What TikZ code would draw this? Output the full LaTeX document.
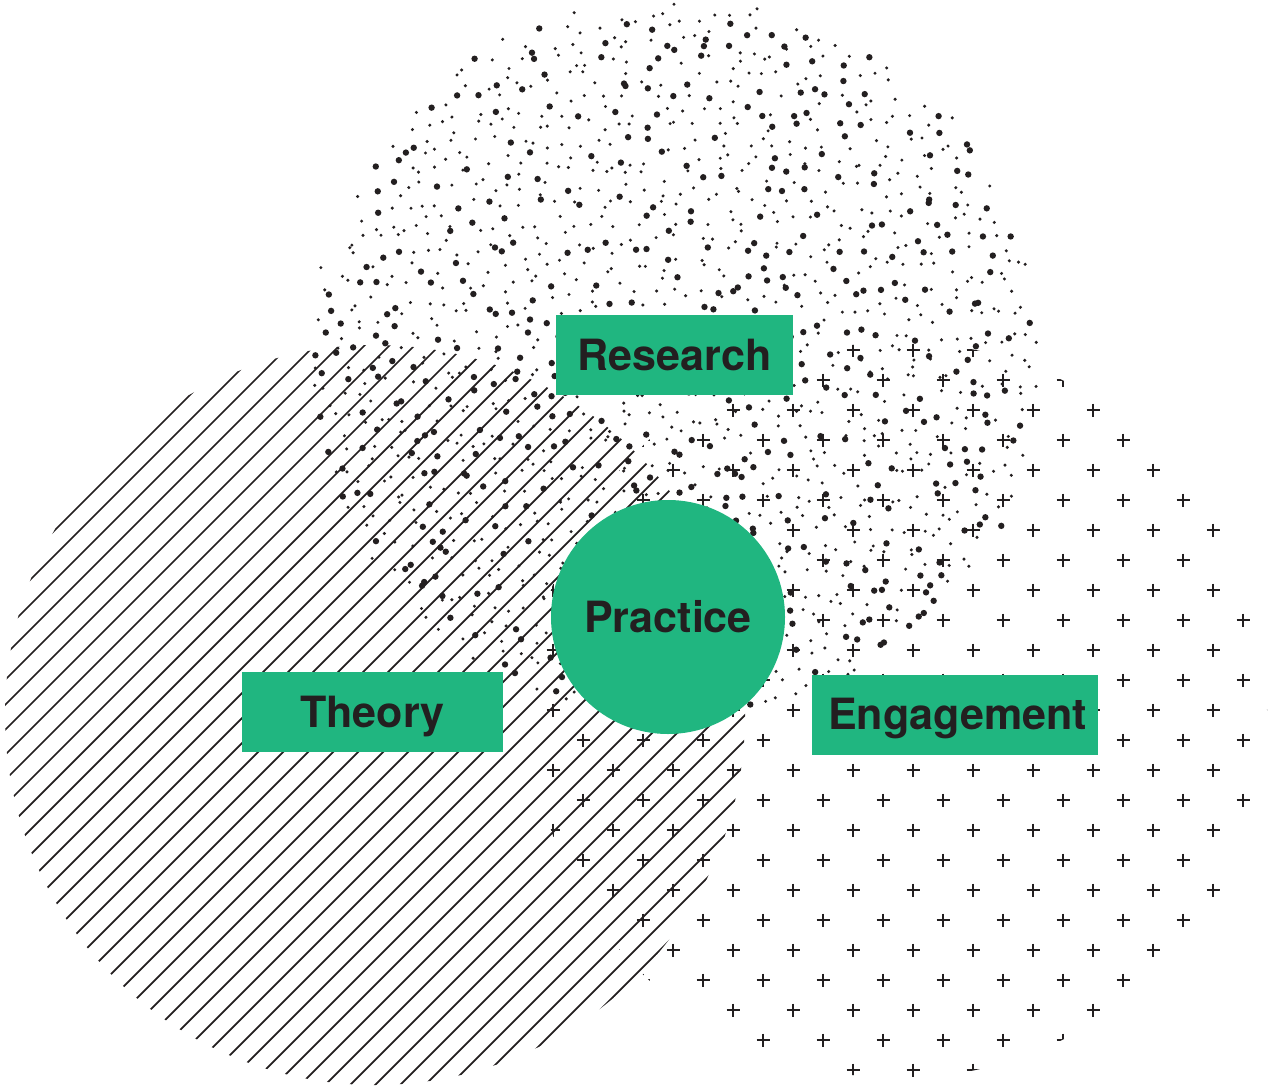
\documentclass[tikz,border=0pt]{standalone}
\usepackage{fontspec}
\setsansfont{TeX Gyre Heros}
\usepackage{tikz}
\usetikzlibrary{positioning}
\definecolor{leaf}{RGB}{32,182,128}
\definecolor{ink}{RGB}{35,31,32}

\begin{document}
\begin{tikzpicture}[x=0.02cm,y=-0.02cm,
label/.style={rectangle,fill=leaf,text=ink,inner sep=0pt,minimum height=80*0.02cm,text height=17.6pt,text depth=0pt,font=\sffamily\bfseries\fontsize{24.5}{29}\selectfont},
hub/.style={circle,fill=leaf,text=ink,inner sep=0pt,minimum size=234*0.02cm,text height=17.6pt,text depth=0pt,font=\sffamily\bfseries\fontsize{24.5}{29}\selectfont},
hatch/.style={ink,line width=1pt},
cross/.style={ink,line width=0.8pt},
]
\useasboundingbox (0,0) rectangle (1268,1088);
\clip (0,0) rectangle (1268,1088);

% hatched circle
\begin{scope}
\clip (375,715) circle[radius=370];
\foreach \c in {560,585,...,1635}
{
\draw [hatch] (\c-1100,1100) -- (\c,0);
}
\end{scope}

% grid of crosses
\begin{scope}
\clip (899,710) circle[radius=368];
\foreach \j in {0,...,24}
{
\pgfmathsetmacro{\rowy}{350+30*\j}
\pgfmathsetmacro{\shift}{mod(\j,2)*30}
\foreach \k in {-6,...,7}
{
\pgfmathsetmacro{\colx}{853+60*\k-\shift}
\draw [cross] (\colx-6.5,\rowy) -- (\colx+6.5,\rowy) (\colx,\rowy-6.5) -- (\colx,\rowy+6.5);
}
}
\end{scope}

% stippled circle
\pgfmathsetseed{4217}
\foreach \i in {0,...,46}
{
\foreach \j in {0,...,46}
{
\pgfmathsetmacro{\px}{305+\i*16+rnd*16}
\pgfmathsetmacro{\py}{-10+\j*16+rnd*16}
\pgfmathsetmacro{\dd}{veclen(\px-677,\py-360)+18*rnd}
\pgfmathsetmacro{\rr}{rnd<0.32 ? 3.2 : 1.7}
\ifdim\dd pt<370pt \fill [ink] (\px,\py) circle[radius=\rr]; \fi
}
}

\node [hub] (practice) at (668,617) {Practice};
\node [label,minimum width=237*0.02cm] (research) at (674.5,355) {Research};
\node [label,minimum width=261*0.02cm] (theory) at (372.5,712) {Theory};
\node [label,minimum width=286*0.02cm] (engagement) at (955,714.5) {\hspace{3pt}Engagement};

\end{tikzpicture}
\end{document}
